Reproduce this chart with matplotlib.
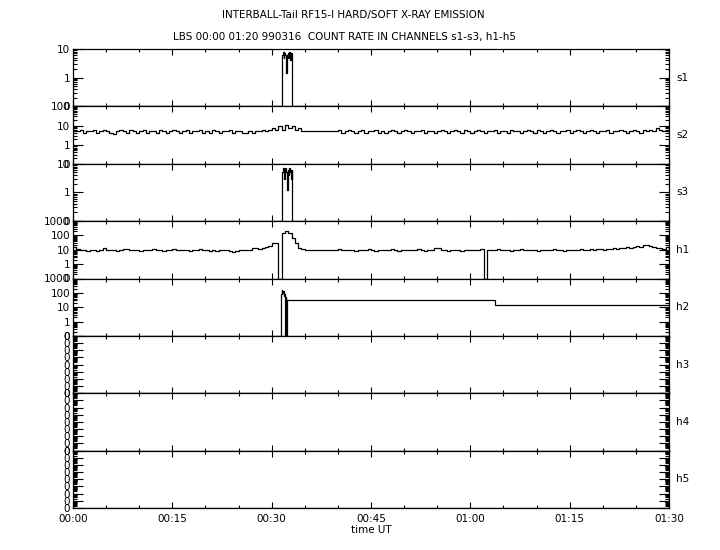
import numpy as np
import matplotlib.pyplot as plt
from matplotlib.ticker import FixedLocator, FuncFormatter, LogLocator, MultipleLocator, NullFormatter

# DATA --->

# time grid, minutes after 00:00 UT
t_grid = np.arange(0, 90.5, 0.5)

s2_rate = [6, 5, 6, 4, 5, 5, 6, 4, 5, 6,
           5, 4, 3.5, 5, 6, 5, 4, 6, 5, 4,
           5, 6, 4, 5, 5, 4, 6, 5, 4, 5,
           6, 5, 4, 5, 6, 4, 5, 5, 6, 4,
           5, 4, 6, 5, 4, 5, 5, 6, 4, 5,
           5, 4, 4, 5, 4, 5, 5, 6, 5, 6,
           7, 6, 9, 6, 11, 7, 9, 6, 7, 5,
           5, 5, 5, 5, 5, 5, 5, 5, 5, 5,
           6, 4, 5, 6, 5, 4, 5, 6, 4, 5,
           5, 6, 4, 5, 4, 5, 6, 5, 4, 5,
           6, 5, 4, 5, 5, 6, 4, 5, 5, 4,
           5, 6, 5, 4, 5, 6, 5, 4, 6, 5,
           4, 5, 6, 5, 4, 5, 5, 6, 4, 5,
           5, 4, 6, 5, 5, 4, 5, 6, 5, 4,
           6, 5, 4, 5, 6, 5, 4, 5, 5, 6,
           4, 5, 6, 5, 4, 5, 6, 5, 4, 5,
           5, 6, 4, 5, 5, 6, 5, 4, 5, 6,
           5, 4, 6, 5, 6, 5, 7, 6, 5, 6,
           5]

h1_rate = [15, 11, 9, 9, 8, 9, 10, 8, 9, 13,
           10, 9, 9, 8, 9, 12, 11, 9, 10, 9,
           8, 9, 10, 9, 11, 10, 9, 8, 9, 10,
           11, 10, 9, 10, 9, 8, 9, 10, 12, 10,
           9, 8, 9, 8, 9, 10, 9, 8, 7, 8,
           9, 10, 9, 10, 13, 14, 12, 13, 15, 18,
           28, 30, 0, 160, 190, 140, 70, 30, 14, 11,
           10, 10, 10, 10, 9, 9, 9, 9, 9, 10,
           12, 10, 9, 10, 9, 8, 9, 10, 9, 11,
           9, 8, 9, 10, 9, 10, 11, 9, 8, 9,
           10, 9, 9, 10, 11, 9, 8, 9, 10, 13,
           14, 10, 9, 8, 9, 10, 9, 8, 9, 10,
           9, 10, 9, 11, 0, 10, 9, 10, 11, 9,
           10, 9, 8, 9, 10, 11, 10, 9, 10, 9,
           8, 9, 10, 9, 10, 12, 10, 9, 8, 9,
           10, 9, 10, 11, 9, 10, 11, 10, 12, 11,
           10, 11, 12, 13, 12, 14, 13, 15, 14, 16,
           18, 17, 20, 22, 19, 16, 14, 13, 12, 15,
           13]

# short burst around 00:32, 0.1 min steps
burst_t = np.round(np.arange(31.6, 33.05, 0.1), 1)
s1_burst = [6, 8, 5, 7, 6, 4, 1.5, 6, 7, 5, 8, 6, 4, 7, 5]
s3_burst = [5, 7, 6, 3, 7, 6, 5, 1.2, 6, 4, 7, 5, 6, 3, 6]

h2_t = [0, 31.4, 31.5, 31.6, 31.7, 31.8, 31.9, 32.0, 32.1, 32.2, 32.3, 63.7, 90]
h2_rate = [0, 80, 160, 100, 130, 60, 90, 0, 50, 0, 33, 14, 14]

channels = ['s1', 's2', 's3', 'h1', 'h2', 'h3', 'h4', 'h5']
y_top = [10, 100, 10, 1000, 1000, None, None, None]

# <--- DATA

s1_t = np.concatenate([[0], burst_t, [33.1, 90]])
s1_rate = [0] + s1_burst + [0, 0]
s3_rate = [0] + s3_burst + [0, 0]

series = {
    's1': (s1_t, s1_rate),
    's2': (t_grid, s2_rate),
    's3': (s1_t, s3_rate),
    'h1': (t_grid, h1_rate),
    'h2': (h2_t, h2_rate),
    'h3': ([0, 90], [0, 0]),
    'h4': ([0, 90], [0, 0]),
    'h5': ([0, 90], [0, 0]),
}

plt.rcParams['font.family'] = 'DejaVu Sans'
plt.rcParams['font.size'] = 7.5

fig = plt.figure(figsize=(7.2, 5.5), dpi=100)

left = 73 / 720
width = 596 / 720
top = 1 - 49 / 550
ph = 459 / 550 / 8


def zero_fmt(v, pos):
    return '0'


def rate_fmt(v, pos):
    if v < 0.5:
        return '0'
    return '%d' % round(v)


def time_fmt(v, pos):
    m = int(round(v))
    return '%02d:%02d' % (m // 60, m % 60)


for i, ch in enumerate(channels):
    ax = fig.add_axes([left, top - (i + 1) * ph, width, ph])
    ax.set_yscale('log')
    if y_top[i] is None:
        lo, hi = 1.0, 1e8
        ax.yaxis.set_major_formatter(FuncFormatter(zero_fmt))
    else:
        lo, hi = 0.1, y_top[i]
        ax.yaxis.set_major_formatter(FuncFormatter(rate_fmt))
    ax.set_ylim(lo, hi)
    ax.yaxis.set_major_locator(LogLocator(base=10, numticks=20))
    ax.yaxis.set_minor_locator(LogLocator(base=10, subs=np.arange(2, 10), numticks=20))
    ax.yaxis.set_minor_formatter(NullFormatter())

    t, v = series[ch]
    ax.plot(t, np.clip(np.asarray(v, dtype=float), lo, None), color='k',
            linewidth=0.9, drawstyle='steps-post')

    ax.set_xlim(0, 90)
    ax.xaxis.set_major_locator(MultipleLocator(15))
    ax.xaxis.set_minor_locator(MultipleLocator(5))

    ax.tick_params(which='both', direction='in', top=True, right=True,
                   width=0.8, colors='k')
    ax.tick_params(axis='y', which='major', length=7, pad=2)
    ax.tick_params(axis='y', which='minor', length=3)
    ax.tick_params(axis='x', which='major', length=4)
    ax.tick_params(axis='x', which='minor', length=2)

    for sp in ax.spines.values():
        sp.set_linewidth(0.9)

    ax.text(1.012, 0.5, ch, transform=ax.transAxes, va='center', ha='left')

    if i < len(channels) - 1:
        ax.set_xticklabels([])
    else:
        ax.xaxis.set_major_formatter(FuncFormatter(time_fmt))
        ax.tick_params(axis='x', which='major', pad=4)
        ax.set_xlabel('time UT', labelpad=1)

fig.text(0.491, 1 - 15 / 550, 'INTERBALL-Tail RF15-I HARD/SOFT X-RAY EMISSION',
         ha='center', va='center')
fig.text(0.478, 1 - 37 / 550,
         'LBS 00:00 01:20 990316  COUNT RATE IN CHANNELS s1-s3, h1-h5',
         ha='center', va='center')

fig.savefig('out.png', dpi=100)
plt.close(fig)
